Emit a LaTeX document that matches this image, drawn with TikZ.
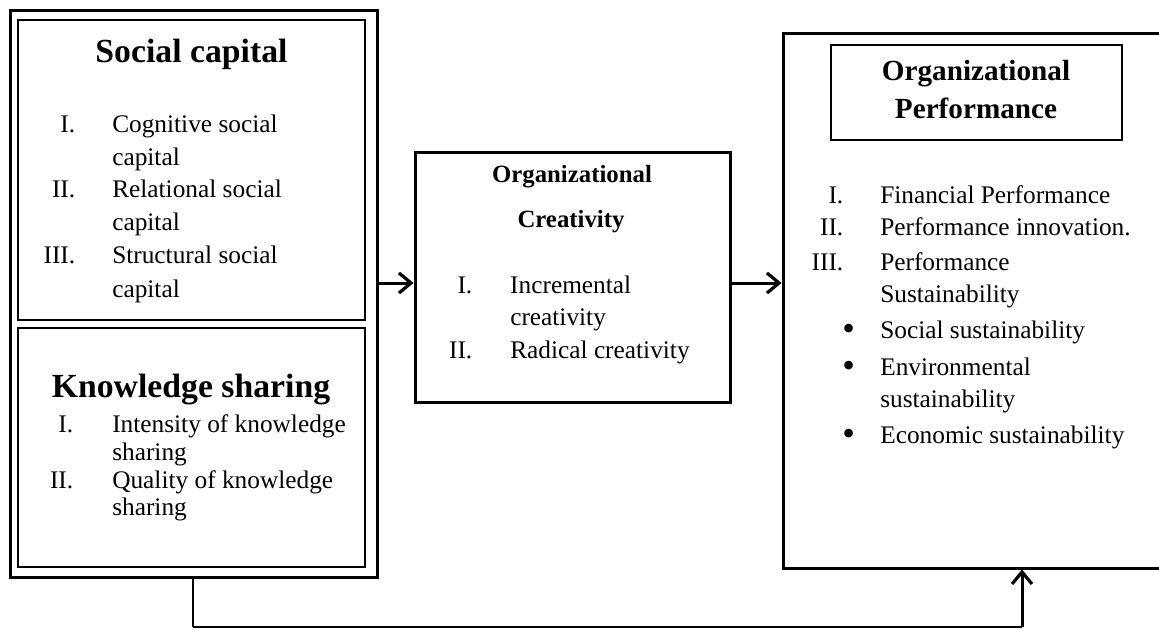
\documentclass[tikz,border=0pt]{standalone}
\usepackage{fontspec}
\setmainfont{Liberation Serif}
\usetikzlibrary{arrows.meta}

% list line: name, x, baseline y, marker, gap, text
\newcommand\listitem[6]{%
  \node[body] (#1) at (#2,#3) {\llap{#4\hspace{#5}}#6};}
\newcommand\bigbullet{\raisebox{-1.5pt}{\fontsize{27}{27}\selectfont\textbullet}}

\begin{document}
\begin{tikzpicture}[x=0.75pt,y=-0.75pt,
  box/.style={draw, rectangle, inner sep=0pt},
  heavy/.style={line width=2.25pt},
  medium/.style={line width=1.5pt},
  body/.style={anchor=base west, inner sep=0pt, font=\fontsize{19}{23}\selectfont},
  bighead/.style={anchor=base, inner sep=0pt, font=\fontsize{25.3}{30}\selectfont\bfseries},
  midhead/.style={anchor=base, inner sep=0pt, font=\fontsize{18.6}{22}\selectfont\bfseries},
  perfhead/.style={anchor=base, inner sep=0pt, font=\fontsize{21.9}{26}\selectfont\bfseries},
  flow/.style={line width=2.25pt, -{Straight Barb[length=9pt,width=15pt,line width=2.4pt]}}
]
\useasboundingbox (0,0) rectangle (1159,628);

% ---- boxes ----
\node[box, heavy, minimum width=275.25pt, minimum height=425.25pt] (outer) at (193.5,293.5) {};
\node[box, medium, minimum width=260.25pt, minimum height=225pt] (social) at (191.5,170) {};
\node[box, medium, minimum width=260.25pt, minimum height=179.25pt] (know) at (191.5,447.5) {};
\node[box, heavy, minimum width=236.25pt, minimum height=187.5pt] (mid) at (572.5,277) {};
\node[box, heavy, minimum width=290.25pt, minimum height=401.25pt] (perf) at (976.5,300.5) {};
\node[box, line width=1.1pt, minimum width=218.25pt, minimum height=71.25pt] (perftitle) at (976.5,92.5) {};

% ---- social capital ----
\node[bighead] (sctitle) at (191.5,62) {Social capital};
\listitem{sc1}{112}{132}{I.}{27.75pt}{Cognitive social}
\listitem{sc1b}{112}{165}{}{27.75pt}{capital}
\listitem{sc2}{112}{197}{II.}{27.75pt}{Relational social}
\listitem{sc2b}{112}{230}{}{27.75pt}{capital}
\listitem{sc3}{112}{263}{III.}{27.75pt}{Structural social}
\listitem{sc3b}{112}{297}{}{27.75pt}{capital}

% ---- knowledge sharing ----
\node[bighead] (kstitle) at (191,397) {Knowledge sharing};
\listitem{ks1}{112}{432}{I.}{29.25pt}{Intensity of knowledge}
\listitem{ks1b}{112}{460}{}{29.25pt}{sharing}
\listitem{ks2}{112}{488}{II.}{29.25pt}{Quality of knowledge}
\listitem{ks2b}{112}{515}{}{29.25pt}{sharing}

% ---- organizational creativity ----
\node[midhead] (octitle1) at (572,182) {Organizational};
\node[midhead] (octitle2) at (571,227) {Creativity};
\listitem{oc1}{510}{293}{I.}{28.5pt}{Incremental}
\listitem{oc1b}{510}{325}{}{28.5pt}{creativity}
\listitem{oc2}{510}{358}{II.}{28.5pt}{Radical creativity}

% ---- organizational performance ----
\node[perfhead] (optitle1) at (976,80) {Organizational};
\node[perfhead] (optitle2) at (976,118) {Performance};
\listitem{op1}{880}{203}{I.}{27.75pt}{Financial Performance}
\listitem{op2}{880}{235}{II.}{27.75pt}{Performance innovation.}
\listitem{op3}{880}{270}{III.}{27.75pt}{Performance}
\listitem{op3b}{880}{302}{}{27.75pt}{Sustainability}
\listitem{op4}{880}{338}{\bigbullet}{19pt}{Social sustainability}
\listitem{op5}{880}{375}{\bigbullet}{19pt}{Environmental}
\listitem{op5b}{880}{407}{}{19pt}{sustainability}
\listitem{op6}{880}{443}{\bigbullet}{19pt}{Economic sustainability}

% ---- connectors ----
\coordinate (ay) at (0,283);
\coordinate (tl) at (193,627);
\coordinate (tr) at (1022,627);
\draw[flow] (outer.east |- ay) -- (mid.west |- ay);
\draw[flow] (mid.east |- ay) -- (perf.west |- ay);
\draw[line width=1.5pt] (outer.south -| tl) -- (tl);
\draw[line width=1.1pt] (tl) -- (tr);
\draw[flow] (tr) -- (perf.south -| tr);
\end{tikzpicture}
\end{document}
